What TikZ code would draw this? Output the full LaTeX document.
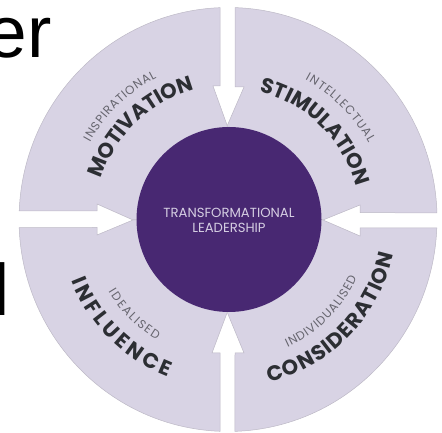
\documentclass[tikz,border=0pt]{standalone}
\usepackage{fontspec}
\setmainfont{Poppins}
\newfontfamily\arialfont{Liberation Sans}
\definecolor{segfill}{HTML}{D8D3E4}
\definecolor{segedge}{HTML}{BDB9C6}
\definecolor{hubfill}{HTML}{482872}
\definecolor{boldink}{HTML}{2C2E33}
\definecolor{thinink}{HTML}{66656E}
\definecolor{hubink}{HTML}{D5CEE2}
\newcommand{\boldlbl}{\fontsize{21}{21}\selectfont\bfseries}
\newcommand{\thinlbl}{\fontsize{12}{12}\selectfont}
\newlength\glyphw
\newcommand{\measureglyph}[2]{\settowidth\glyphw{\pgfinterruptpicture#1#2\endpgfinterruptpicture}}
% centre angle, radius, direction (+1 ccw, -1 cw), arc length, style, font, letters
\newcommand{\arclabel}[7]{%
  \xdef\lblsum{0}\xdef\lblcount{0}%
  \foreach \ch in {#7}{%
    \measureglyph{#6}{\ch}%
    \pgfmathsetmacro\tmpa{\lblsum+\glyphw}\xdef\lblsum{\tmpa}%
    \pgfmathsetmacro\tmpb{\lblcount+1}\xdef\lblcount{\tmpb}%
  }%
  \pgfmathsetmacro\lblgap{(#4-\lblsum)/(\lblcount-1)}%
  \pgfmathsetmacro\tmpa{-#4/2}\xdef\lblpos{\tmpa}%
  \foreach \ch [count=\k] in {#7}{%
    \measureglyph{#6}{\ch}%
    \pgfmathsetmacro\lblmid{\lblpos+\glyphw/2}%
    \pgfmathsetmacro\lblang{#1+#3*\lblmid/#2*57.29578}%
    \pgfmathsetmacro\lblrot{\lblang+#3*90}%
    \node[#5,rotate=\lblrot] (l#7\k) at ([shift=(\lblang:#2)]229,213.5) {#6\ch};
    \pgfmathsetmacro\tmpa{\lblpos+\glyphw+\lblgap}\xdef\lblpos{\tmpa}%
  }%
}
\tikzset{segment/.style={fill=segfill,draw=segedge,line width=0.5pt,line join=miter},
  bigtext/.style={inner sep=0pt,font=\arialfont\fontsize{73}{73}\selectfont,text=black},
  boldglyph/.style={anchor=base,inner sep=0pt,text=boldink},
  thinglyph/.style={anchor=base,inner sep=0pt,text=thinink}}
\begin{document}
\begin{tikzpicture}[x=1pt,y=1pt]
\useasboundingbox (0,0) rectangle (442,433);
\node[bigtext,anchor=base east] (er) at (52,375) {er};
\node[bigtext,anchor=base east] (ell) at (10,117) {l};
% segments
\path[segment] (19.2,222) arc[start angle=177.7,end angle=92.2,x radius=209,y radius=212]
  -- (220,347) -- (213,347) -- (227,308) -- (229,213.5) -- (133,213) -- (97,229) -- (97,222) -- cycle;
\path[segment] (235,425.4) arc[start angle=88.1,end angle=1.8,x radius=209,y radius=212]
  -- (360,220.3) -- (360,228) -- (323,213) -- (229,213.5) -- (227.5,308) -- (244,346) -- (235,346) -- cycle;
\path[segment] (436.8,205) arc[start angle=-2.3,end angle=-88.1,x radius=209,y radius=212]
  -- (235,80) -- (244,80) -- (227.5,120) -- (229,213.5) -- (323,213) -- (360,197) -- (360,205) -- cycle;
\path[segment] (220,1.7) arc[start angle=267.8,end angle=182.2,x radius=209,y radius=212]
  -- (97,205.5) -- (97,198) -- (133,213) -- (229,213.5) -- (227,120) -- (212,80) -- (220,80) -- cycle;
% hub
\fill[hubfill] (229,213.5) circle[radius=92.5];
\node[align=center,text=hubink,inner sep=0pt,font=\fontsize{13.2}{15.5}\selectfont] (hub) at (229,212.5) {TRANSFORMATIONAL\\LEADERSHIP};
% labels
\arclabel{133.7}{134}{-1}{134}{boldglyph}{\boldlbl}{M,O,T,I,V,A,T,I,O,N}
\arclabel{134}{159}{-1}{94}{thinglyph}{\thinlbl}{I,N,S,P,I,R,A,T,I,O,N,A,L}
\arclabel{45.5}{131}{-1}{142}{boldglyph}{\boldlbl}{S,T,I,M,U,L,A,T,I,O,N}
\arclabel{45}{159}{-1}{91}{thinglyph}{\thinlbl}{I,N,T,E,L,L,E,C,T,U,A,L}
\arclabel{225}{169}{1}{141}{boldglyph}{\boldlbl}{I,N,F,L,U,E,N,C,E}
\arclabel{225}{140.5}{1}{69}{thinglyph}{\thinlbl}{I,D,E,A,L,I,S,E,D}
\arclabel{-44}{168}{1}{188}{boldglyph}{\boldlbl}{C,O,N,S,I,D,E,R,A,T,I,O,N}
\arclabel{-45}{140.5}{1}{100}{thinglyph}{\thinlbl}{I,N,D,I,V,I,D,U,A,L,I,S,E,D}
\end{tikzpicture}
\end{document}
